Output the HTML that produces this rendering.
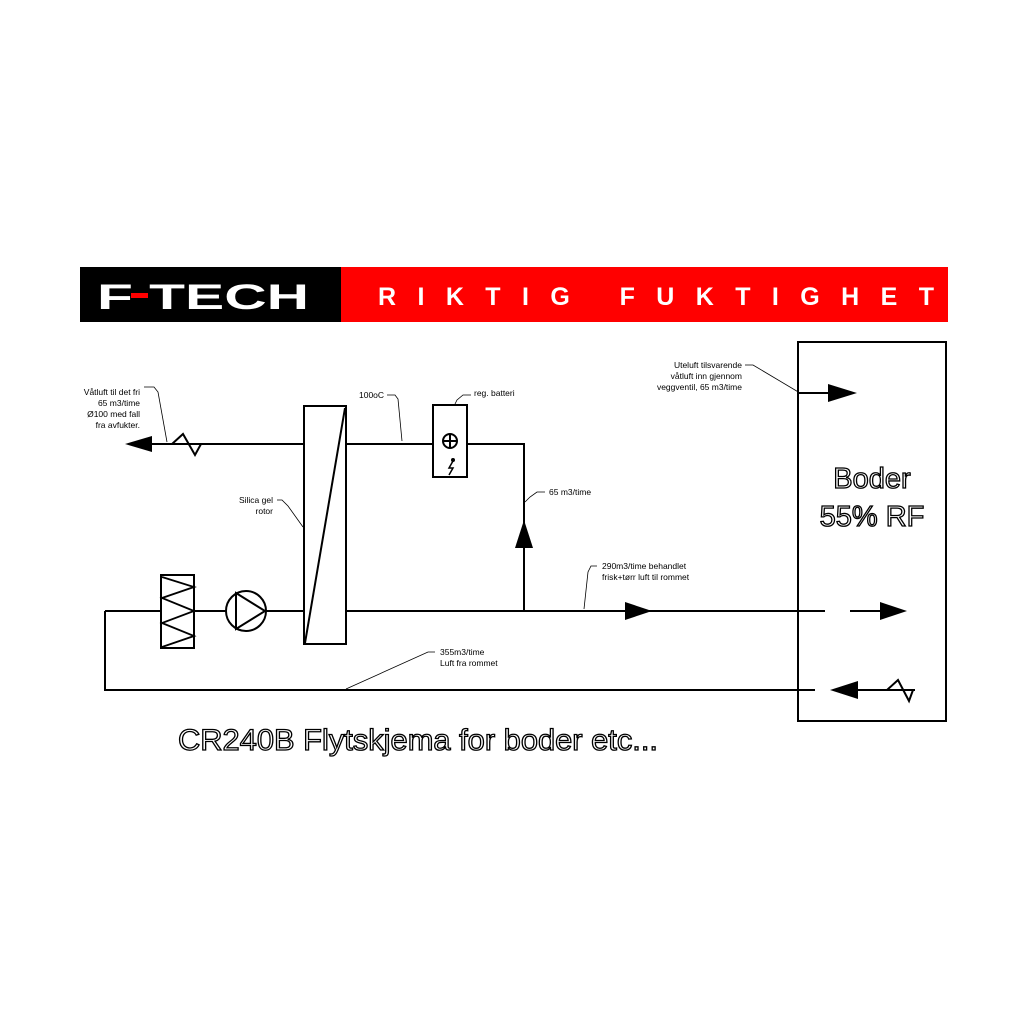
<!DOCTYPE html>
<html><head><meta charset="utf-8"><style>html,body{margin:0;padding:0;background:#fff}svg{display:block}</style></head>
<body>
<svg width="1024" height="1024" viewBox="0 0 1024 1024" xmlns="http://www.w3.org/2000/svg" font-family="'Liberation Sans','DejaVu Sans',sans-serif">
<rect x="80" y="267" width="261" height="55" fill="#000"/>
<rect x="341" y="267" width="607" height="55" fill="#ff0000"/>
<text x="97" y="309" font-size="35" font-weight="bold" fill="#fff" textLength="212" lengthAdjust="spacingAndGlyphs">F TECH</text>
<rect x="131" y="293" width="17" height="5" fill="#ff0000"/>
<text x="378" y="305" font-size="25" font-weight="bold" fill="#fff" textLength="556" lengthAdjust="spacing">RIKTIG FUKTIGHET</text>

<g stroke="#000" stroke-width="2" fill="none">
<line x1="150" y1="444" x2="304" y2="444"/>
<line x1="346" y1="444" x2="433" y2="444"/>
<polyline points="467,444 524,444 524,611"/>
<rect x="304" y="406" width="42" height="238"/>
<line x1="345" y1="408" x2="305" y2="643"/>
<rect x="433" y="405" width="34" height="72"/>
<circle cx="450" cy="441" r="7"/>
<line x1="443" y1="441" x2="457" y2="441"/>
<line x1="450" y1="434" x2="450" y2="448"/>
<polyline points="105,611 161,611"/>
<rect x="161" y="575" width="33" height="73"/>
<polyline points="162,577 194,587 162,598 194,611 162,623 194,636 162,647" stroke-width="1.8"/>
<line x1="194" y1="611" x2="226" y2="611"/>
<circle cx="246" cy="611" r="20"/>
<polygon points="236,593 265,611 236,629"/>
<line x1="266" y1="611" x2="304" y2="611"/>
<line x1="346" y1="611" x2="825" y2="611"/>
<line x1="850" y1="611" x2="885" y2="611"/>
<polyline points="105,611 105,690 815,690"/>
<line x1="840" y1="690" x2="915" y2="690"/>
<rect x="798" y="342" width="148" height="379"/>
<line x1="798" y1="393" x2="830" y2="393"/>
</g>
<g stroke="#000" stroke-width="2" fill="none">
<polyline points="172,444 183,434 195,455 201,444"/>
<polyline points="887,690 898,680 909,701 913,690"/>
</g>
<path d="M453,461 l-4,7 h4 l-4,7" stroke="#000" stroke-width="1.5" fill="none"/>
<circle cx="453" cy="460" r="2" fill="#000"/>
<g fill="#000">
<polygon points="125,444 152,436 152,452"/>
<polygon points="524,520 515,548 533,548"/>
<polygon points="652,611 625,602 625,620"/>
<polygon points="907,611 880,602 880,620"/>
<polygon points="830,690 858,681 858,699"/>
<polygon points="857,393 828,384 828,402"/>
</g>
<g stroke="#000" stroke-width="0.8" fill="none">
<polyline points="144,387 154,387 158,392 167,442"/>
<polyline points="387,395 395,395 398,399 402,441"/>
<polyline points="471,395 463,395 457,400 455,404"/>
<polyline points="545,492 537,492 530,497 525,502"/>
<polyline points="277,500 282,500 288,506 303,527"/>
<polyline points="597,566 591,566 588,572 584,609"/>
<polyline points="435,652 428,652 346,689"/>
<polyline points="745,365 753,365 800,393"/>
</g>
<g font-size="8.5" fill="#000">
<text x="140" y="395" text-anchor="end">Våtluft til det fri</text>
<text x="140" y="406" text-anchor="end">65 m3/time</text>
<text x="140" y="417" text-anchor="end">Ø100 med fall</text>
<text x="140" y="428" text-anchor="end">fra avfukter.</text>
<text x="359" y="398">100oC</text>
<text x="474" y="396">reg. batteri</text>
<text x="549" y="495">65 m3/time</text>
<text x="273" y="503" text-anchor="end">Silica gel</text>
<text x="273" y="514" text-anchor="end">rotor</text>
<text x="602" y="569">290m3/time behandlet</text>
<text x="602" y="580">frisk+tørr luft til rommet</text>
<text x="440" y="655">355m3/time</text>
<text x="440" y="666">Luft fra rommet</text>
<text x="742" y="368" text-anchor="end">Uteluft tilsvarende</text>
<text x="742" y="379" text-anchor="end">våtluft inn gjennom</text>
<text x="742" y="390" text-anchor="end">veggventil, 65 m3/time</text>
</g>
<g fill="#fff" stroke="#000" stroke-width="1.3">
<text x="872" y="488" font-size="29" text-anchor="middle">Boder</text>
<text x="872" y="526" font-size="29" text-anchor="middle">55% RF</text>
<text x="178" y="750" font-size="30" textLength="480" lengthAdjust="spacingAndGlyphs">CR240B Flytskjema for boder etc...</text>
</g>
</svg>
</body></html>
